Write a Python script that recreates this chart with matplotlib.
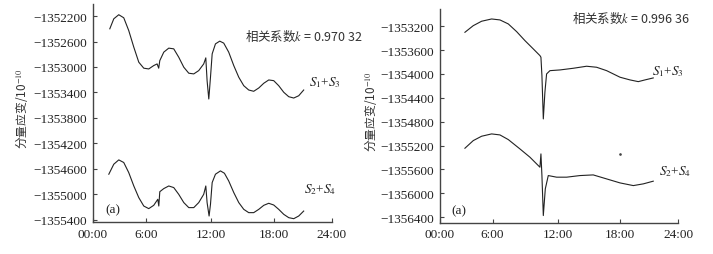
import matplotlib
matplotlib.use("Agg")
import matplotlib.pyplot as plt

plt.rcParams['font.family'] = ['Liberation Serif', 'Noto Sans CJK SC', 'DejaVu Sans']
plt.rcParams['mathtext.fontset'] = 'stix'

# ---------------- data ----------------
# x positions in axis units (0..24 span of the time axis)
tick_pos = [0, 5.3, 11.85, 18.15, 24]
tick_labels = ["00:00", "6:00", "12:00", "18:00", "24:00"]

# panel 1
p1_yticks = [-1352200, -1352600, -1353000, -1353400, -1353800,
             -1354200, -1354600, -1355000, -1355400]
p1_s13_x = [1.69, 2.09, 2.59, 3.09, 3.59, 4.1, 4.6, 5.1, 5.6, 6.1, 6.44, 6.6, 6.71,
            7.11, 7.61, 8.11, 8.61, 9.12, 9.62, 10.12, 10.62, 11.12, 11.33, 11.46,
            11.63, 11.8, 11.97, 12.3, 12.73, 13.13, 13.63, 14.14, 14.64, 15.14,
            15.64, 16.14, 16.65, 17.15, 17.65, 18.15, 18.65, 19.16, 19.66, 20.16,
            20.66, 21.16]
p1_s13_y = [-1352400, -1352243, -1352179, -1352227, -1352427, -1352689, -1352925,
            -1353019, -1353031, -1352978, -1352952, -1353019, -1352900, -1352767,
            -1352704, -1352715, -1352846, -1353004, -1353098, -1353109, -1353057,
            -1352952, -1352857, -1353215, -1353503, -1353161, -1352794, -1352637,
            -1352594, -1352625, -1352767, -1352979, -1353161, -1353294, -1353362,
            -1353382, -1353330, -1353256, -1353204, -1353215, -1353294, -1353398,
            -1353467, -1353488, -1353452, -1353362]
p1_s24_x = [1.59, 2.09, 2.59, 3.09, 3.59, 4.1, 4.6, 5.1, 5.6, 6.1, 6.51, 6.61, 6.71,
            7.11, 7.61, 8.11, 8.61, 9.12, 9.62, 10.12, 10.62, 11.12, 11.33, 11.46,
            11.66, 11.8, 11.97, 12.3, 12.8, 13.2, 13.63, 14.14, 14.64, 15.14,
            15.64, 16.14, 16.65, 17.15, 17.65, 18.15, 18.65, 19.16, 19.66, 20.16,
            20.66, 21.16]
p1_s24_y = [-1354685, -1354528, -1354460, -1354501, -1354659, -1354870, -1355053,
            -1355185, -1355226, -1355174, -1355079, -1355185, -1354960, -1354911,
            -1354870, -1354895, -1355001, -1355131, -1355210, -1355210, -1355131,
            -1355001, -1354870, -1355131, -1355342, -1355158, -1354816, -1354685,
            -1354633, -1354670, -1354791, -1354974, -1355131, -1355237, -1355289,
            -1355289, -1355237, -1355174, -1355142, -1355169, -1355237, -1355316,
            -1355368, -1355384, -1355342, -1355264]

# panel 2
p2_yticks = [-1353200, -1353600, -1354000, -1354400, -1354800,
             -1355200, -1355600, -1356000, -1356400]
p2_s13_x = [2.52, 3.36, 4.2, 5.21, 6.05, 6.89, 7.73, 8.57, 9.41, 10.08, 10.18,
            10.28, 10.42, 10.58, 10.75, 11.09, 12.1, 13.44, 14.78, 15.79, 16.8,
            18.15, 19.15, 19.99, 20.67, 21.5]
p2_s13_y = [-1353301, -1353190, -1353116, -1353078, -1353094, -1353161, -1353290,
            -1353441, -1353580, -1353692, -1353719, -1354027, -1354753, -1354306,
            -1353999, -1353944, -1353932, -1353904, -1353870, -1353887, -1353944,
            -1354054, -1354099, -1354128, -1354099, -1354066]
p2_s24_x = [2.52, 3.36, 4.2, 5.21, 6.05, 6.89, 8.06, 9.07, 10.08, 10.18, 10.28,
            10.42, 10.62, 10.92, 11.76, 12.77, 14.11, 15.45, 16.8, 18.15, 19.49,
            20.5, 21.5]
p2_s24_y = [-1355244, -1355116, -1355043, -1355004, -1355021, -1355099, -1355255,
            -1355394, -1355562, -1355339, -1355702, -1356372, -1355925, -1355702,
            -1355729, -1355729, -1355702, -1355691, -1355758, -1355825, -1355870,
            -1355841, -1355796]
p2_stray_x = [18.15]
p2_stray_y = [-1355339]

k_texts = ["相关系数$k$ = 0.970 32", "相关系数$k$ = 0.996 36"]
ylabel = "分量应变/10$^{-10}$"

# ---------------- figure ----------------
fig = plt.figure(figsize=(7.13, 2.55), dpi=100)
line_kw = dict(color="#222222", lw=0.8)

panels = [
    dict(rect=[0.1304, 0.1255, 0.3352, 0.855], ylim=(-1355436, -1352010),
         yticks=p1_yticks, s13=(p1_s13_x, p1_s13_y), s24=(p1_s24_x, p1_s24_y),
         k=k_texts[0], kpos=(0.635, 0.855), l13=(0.905, 0.645), l24=(0.885, 0.155),
         ylab_x=-0.264, stray=None),
    dict(rect=[0.617, 0.122, 0.334, 0.839], ylim=(-1356495, -1352910),
         yticks=p2_yticks, s13=(p2_s13_x, p2_s13_y), s24=(p2_s24_x, p2_s24_y),
         k=k_texts[1], kpos=(0.555, 0.96), l13=(0.89, 0.71), l24=(0.92, 0.245),
         ylab_x=-0.256, stray=(p2_stray_x, p2_stray_y)),
]

for p in panels:
    ax = fig.add_axes(p["rect"])
    ax.plot(*p["s13"], **line_kw)
    ax.plot(*p["s24"], **line_kw)
    if p["stray"] is not None:
        ax.plot(*p["stray"], marker="o", ms=0.9, color="#444444", lw=0)
    ax.set_xlim(0, 24)
    ax.set_ylim(*p["ylim"])
    ax.set_xticks(tick_pos)
    ax.set_xticklabels(tick_labels)
    ax.set_yticks(p["yticks"])
    ax.set_yticklabels([f"\u2212{abs(v)}" for v in p["yticks"]])
    for s in ("top", "right"):
        ax.spines[s].set_visible(False)
    for s in ("left", "bottom"):
        ax.spines[s].set_color("#444444")
        ax.spines[s].set_linewidth(1.0)
    ax.tick_params(direction="in", length=3, width=0.8, colors="#444444",
                   labelcolor="#222222", labelsize=9.5, pad=4)
    ax.text(p["kpos"][0], p["kpos"][1], p["k"], transform=ax.transAxes,
            fontsize=9, ha="left", va="center", color="#333333",
            family=['Noto Sans CJK SC', 'DejaVu Sans'])
    ax.text(p["l13"][0], p["l13"][1], "$S_1$+$S_3$", transform=ax.transAxes,
            fontsize=9.5, ha="left", va="center", color="#222222")
    ax.text(p["l24"][0], p["l24"][1], "$S_2$+$S_4$", transform=ax.transAxes,
            fontsize=9.5, ha="left", va="center", color="#222222")
    ax.text(0.05, 0.06, "(a)", transform=ax.transAxes, fontsize=9.5,
            ha="left", va="center", color="#222222")
    ax.set_ylabel(ylabel, fontsize=8.5, color="#333333",
                  family=['Noto Sans CJK SC', 'DejaVu Sans'])
    ax.yaxis.set_label_coords(p["ylab_x"], 0.525)

fig.savefig("out.png", dpi=100)
